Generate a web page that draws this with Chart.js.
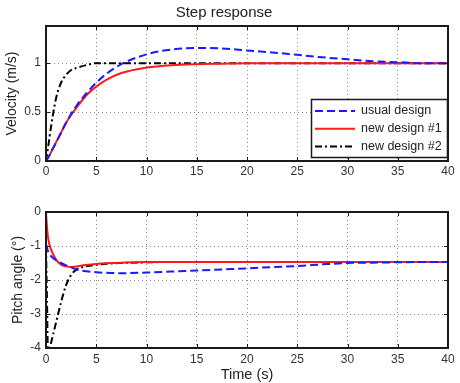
<!DOCTYPE html>
<html>
<head>
<meta charset="utf-8">
<script src="https://cdn.jsdelivr.net/npm/chart.js@4.4.1/dist/chart.umd.min.js"></script>
<style>
  body { margin: 0; background: #fff; }
  canvas { display: block; }
</style>
</head>
<body>
<canvas id="velChart" width="460" height="190"></canvas>
<canvas id="pitchChart" width="460" height="193"></canvas>
<script>
const seriesNames = ["usual design", "new design #1", "new design #2"];
const timeTicks = [0, 5, 10, 15, 20, 25, 30, 35, 40];
const velTicks = [0, 0.5, 1];
const pitchTicks = [-4, -3, -2, -1, 0];

// top panel: velocity
const tVel = [0, 0.25, 0.5, 1, 1.5, 2, 2.5, 3, 4, 5, 6, 7.5, 10, 12.5, 15, 17.5, 20, 22.5, 25, 27.5, 30, 32.5, 35, 37.5, 40];
const velUsual = [0, 0.04, 0.09, 0.19, 0.29, 0.39, 0.48, 0.56, 0.69, 0.80, 0.89, 0.99, 1.09, 1.14, 1.155, 1.15, 1.13, 1.11, 1.085, 1.06, 1.04, 1.02, 1.01, 1.0, 1.0];
const velNew1 = [0, 0.04, 0.09, 0.19, 0.29, 0.39, 0.47, 0.54, 0.67, 0.76, 0.83, 0.9, 0.955, 0.98, 0.99, 0.995, 1, 1, 1, 1, 1, 1, 1, 1, 1];
const velNew2 = [0, 0.17, 0.35, 0.64, 0.8, 0.88, 0.93, 0.95, 0.98, 1, 1, 1, 1, 1, 1, 1, 1, 1, 1, 1, 1, 1, 1, 1, 1];

// bottom panel: pitch angle
const tPitch = [0, 0.1, 0.2, 0.5, 1, 1.5, 2, 2.5, 3, 4, 5, 6, 7.5, 10, 12.5, 15, 17.5, 20, 22.5, 25, 27.5, 30, 32.5, 35, 37.5, 40];
const pitchUsual = [-0.95, -1.05, -1.15, -1.3, -1.42, -1.5, -1.57, -1.63, -1.69, -1.74, -1.77, -1.79, -1.8, -1.78, -1.75, -1.72, -1.69, -1.66, -1.62, -1.59, -1.54, -1.5, -1.49, -1.48, -1.47, -1.47];
const pitchNew1 = [0, -0.45, -0.75, -1.1, -1.4, -1.55, -1.6, -1.62, -1.6, -1.56, -1.53, -1.51, -1.49, -1.47, -1.47, -1.47, -1.47, -1.47, -1.47, -1.47, -1.47, -1.47, -1.47, -1.47, -1.47, -1.47];
const pitchNew2 = [-1.0, -2.6, -4.2, -3.85, -3.25, -2.65, -2.15, -1.85, -1.7, -1.6, -1.55, -1.52, -1.5, -1.48, -1.47, -1.47, -1.47, -1.47, -1.47, -1.47, -1.47, -1.47, -1.47, -1.47, -1.47, -1.47];

const FONT = '"Liberation Sans", Arial, sans-serif';
const styles = [
  { color: '#1a1aff', dash: [8, 4] },
  { color: '#ff1a1a', dash: [] },
  { color: '#000000', dash: [7, 3, 2, 3] }
];

function toPoints(t, v) {
  return t.map((x, i) => ({ x: x, y: v[i] }));
}

function makeDatasets(t, lists) {
  return lists.map((v, i) => ({
    label: seriesNames[i],
    data: toPoints(t, v),
    borderColor: styles[i].color,
    borderDash: styles[i].dash,
    borderWidth: 2,
    pointRadius: 0,
    fill: false,
    cubicInterpolationMode: 'monotone',
    clip: 0
  }));
}

// box round the plot with inward tick marks
const framePlugin = {
  id: 'frame',
  afterDatasetsDraw(chart) {
    const { ctx, chartArea: a, scales } = chart;
    ctx.save();
    ctx.strokeStyle = '#1a1a1a';
    ctx.lineWidth = 1;
    ctx.setLineDash([]);
    ctx.beginPath();
    scales.x.ticks.forEach(t => {
      const px = Math.round(scales.x.getPixelForValue(t.value)) + 0.5;
      ctx.moveTo(px, a.bottom); ctx.lineTo(px, a.bottom - 4);
      ctx.moveTo(px, a.top); ctx.lineTo(px, a.top + 4);
    });
    scales.y.ticks.forEach(t => {
      const py = Math.round(scales.y.getPixelForValue(t.value)) + 0.5;
      ctx.moveTo(a.left, py); ctx.lineTo(a.left + 4, py);
      ctx.moveTo(a.right, py); ctx.lineTo(a.right - 4, py);
    });
    ctx.stroke();
    ctx.lineWidth = 2;
    ctx.strokeRect(a.left, a.top, a.width, a.height);
    ctx.restore();
  }
};

// matlab style legend box in the lower right corner
const boxLegend = {
  id: 'boxLegend',
  afterDraw(chart) {
    const { ctx, chartArea: a } = chart;
    const w = 136, h = 58;
    const x0 = a.right - 137, y0 = a.bottom - 62;
    ctx.save();
    ctx.fillStyle = '#fff';
    ctx.fillRect(x0, y0, w, h);
    ctx.strokeStyle = '#1a1a1a';
    ctx.lineWidth = 1.5;
    ctx.strokeRect(x0 + 0.5, y0 + 0.5, w, h);
    chart.data.datasets.forEach((ds, i) => {
      const y = y0 + 12 + i * 17.8;
      ctx.strokeStyle = ds.borderColor;
      ctx.lineWidth = 2;
      ctx.setLineDash(ds.borderDash || []);
      ctx.beginPath();
      ctx.moveTo(x0 + 4, y);
      ctx.lineTo(x0 + 44, y);
      ctx.stroke();
      ctx.setLineDash([]);
      ctx.fillStyle = '#222';
      ctx.font = '12.5px ' + FONT;
      ctx.textBaseline = 'middle';
      ctx.fillText(ds.label, x0 + 50, y);
    });
    ctx.restore();
  }
};

function makeOptions(cfg) {
  return {
    responsive: false,
    animation: false,
    layout: { padding: { top: cfg.padTop, right: 12, bottom: 0, left: 0 } },
    plugins: {
      legend: { display: false },
      tooltip: { enabled: false },
      title: cfg.title ? {
        display: true,
        text: cfg.title,
        color: '#222',
        font: { family: FONT, size: 15, weight: 'normal' },
        padding: { top: 3.5, bottom: 4.5 }
      } : { display: false }
    },
    scales: {
      x: {
        type: 'linear',
        min: 0,
        max: 40,
        afterBuildTicks: s => { s.ticks = timeTicks.map(v => ({ value: v })); },
        afterFit: s => { s.height = cfg.xHeight; },
        ticks: {
          color: '#333', font: { family: FONT, size: 12 }, padding: cfg.xPad, maxRotation: 0,
          callback: v => String(v)
        },
        grid: { color: '#888', drawTicks: false },
        border: { display: false, dash: [1, 3] },
        title: cfg.xTitle ? {
          display: true,
          text: cfg.xTitle,
          color: '#222',
          font: { family: FONT, size: 14.5, lineHeight: 1 },
          padding: { top: 0, bottom: 0.5 }
        } : { display: false }
      },
      y: {
        min: cfg.yMin,
        max: cfg.yMax,
        afterBuildTicks: s => { s.ticks = cfg.yTicks.map(v => ({ value: v })); },
        afterFit: s => { s.width = 46; },
        ticks: {
          color: '#333', font: { family: FONT, size: 12 }, padding: 5,
          callback: v => String(v)
        },
        grid: { color: '#888', drawTicks: false },
        border: { display: false, dash: [1, 3] },
        title: {
          display: true,
          text: cfg.yTitle,
          color: '#222',
          font: { family: FONT, size: 14 },
          padding: { top: cfg.yTitlePad, bottom: 0 }
        }
      }
    }
  };
}

new Chart(document.getElementById('velChart'), {
  type: 'line',
  data: { datasets: makeDatasets(tVel, [velUsual, velNew1, velNew2]) },
  options: makeOptions({
    title: 'Step response', padTop: 0, xHeight: 29, xPad: 3.5,
    yMin: 0, yMax: 1.38, yTicks: velTicks, yTitle: 'Velocity (m/s)', yTitlePad: 3.6
  }),
  plugins: [framePlugin, boxLegend]
});

new Chart(document.getElementById('pitchChart'), {
  type: 'line',
  data: { datasets: makeDatasets(tPitch, [pitchUsual, pitchNew1, pitchNew2]) },
  options: makeOptions({
    padTop: 22, xHeight: 35, xPad: 4, xTitle: 'Time (s)',
    yMin: -4, yMax: 0, yTicks: pitchTicks, yTitle: 'Pitch angle (°)', yTitlePad: 9.6
  }),
  plugins: [framePlugin]
});
</script>
</body>
</html>
